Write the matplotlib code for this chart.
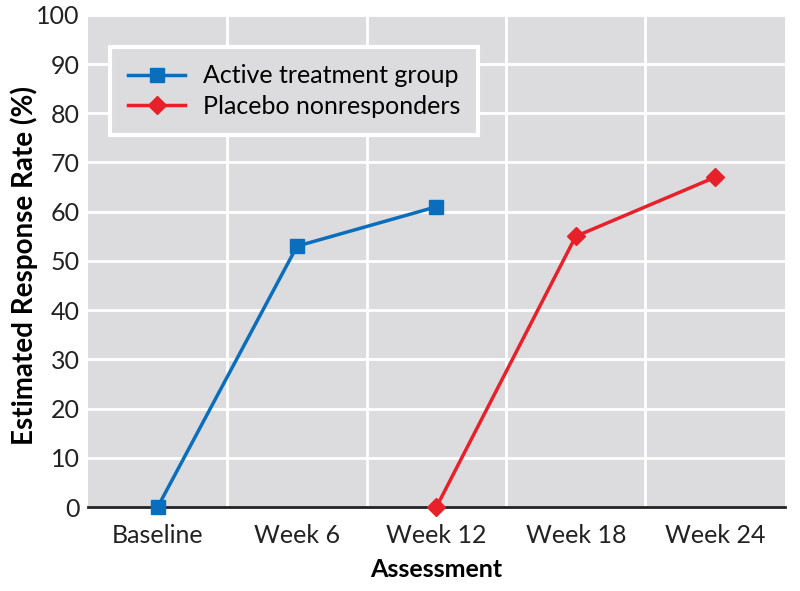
import matplotlib.pyplot as plt

assessments = ["Baseline", "Week 6", "Week 12", "Week 18", "Week 24"]
active_x = [0, 1, 2]
active_rate = [0, 53, 61]
placebo_x = [2, 3, 4]
placebo_rate = [0, 55, 67]

plt.rcParams["font.family"] = ["Lato", "DejaVu Sans"]

fig = plt.figure(figsize=(8, 5.91), dpi=100)
ax = fig.add_axes([0.11, 0.142, 0.871, 0.833])
ax.set_facecolor("#dcdcde")

ax.plot(active_x, active_rate, color="#0a6ebd", lw=2.5, marker="s", ms=10,
        label="Active treatment group", clip_on=False, zorder=3)
ax.plot(placebo_x, placebo_rate, color="#e8202a", lw=2.5, marker="D", ms=9,
        label="Placebo nonresponders", clip_on=False, zorder=3)

ax.set_xlim(-0.5, 4.5)
ax.set_ylim(0, 100)
ax.set_xticks(range(len(assessments)))
ax.set_xticklabels(assessments)
ax.set_yticks(range(0, 101, 10))
ax.set_xticks([0.5, 1.5, 2.5, 3.5], minor=True)
ax.tick_params(which="both", length=0, labelsize=18, colors="#222222")
ax.tick_params(axis="x", pad=12)
ax.tick_params(axis="y", pad=6)
ax.grid(True, axis="y", color="white", lw=2)
ax.grid(True, axis="x", which="minor", color="white", lw=2)
ax.set_axisbelow(True)

for s in ["left", "right", "top"]:
    ax.spines[s].set_visible(False)
ax.spines["bottom"].set_color("#222222")
ax.spines["bottom"].set_linewidth(2)

ax.set_xlabel("Assessment", fontsize=18, fontweight="bold", labelpad=8)
ax.set_ylabel("Estimated Response Rate (%)", fontsize=20, fontweight="bold")
ax.yaxis.set_label_coords(-0.072, 0.49)

leg = ax.legend(loc="upper left", bbox_to_anchor=(0.032, 0.935), borderaxespad=0,
                fontsize=18, frameon=True, fancybox=False, handlelength=2.3,
                borderpad=0.7, labelspacing=0.3, handletextpad=0.7)
leg.get_frame().set_facecolor("#dcdcde")
leg.get_frame().set_edgecolor("white")
leg.get_frame().set_linewidth(3)
leg.get_frame().set_alpha(1)

plt.savefig("out.png")
